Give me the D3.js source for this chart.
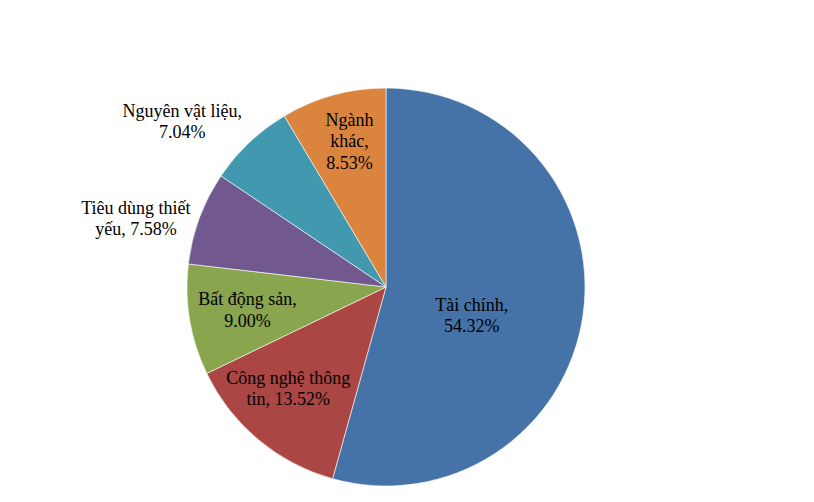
<!DOCTYPE html>
<html>
<head>
<meta charset="utf-8">
<script src="https://cdn.jsdelivr.net/npm/d3@7"></script>
<style>
  body { margin: 0; background: #fff; }
  svg text { font-family: 'Liberation Serif', 'Times New Roman', Times, 'DejaVu Serif', serif; font-size: 18px; fill: #000; }
</style>
</head>
<body>
<svg id="chart"></svg>
<script>
// data
const categories = ['Tài chính', 'Công nghệ thông tin', 'Bất động sản', 'Tiêu dùng thiết yếu', 'Nguyên vật liệu', 'Ngành khác'];
const shares = [54.32, 13.52, 9.00, 7.58, 7.04, 8.53];
const colors = ['#4572A7', '#AA4643', '#89A54E', '#71588F', '#4198AF', '#DB843D'];

// label layout (radius as fraction of pie radius, wrap width, nudge)
const labelR = [0.47, 0.71, 0.69, 1.34, 1.33, 0.75];
const wrapW = [85, 135, 115, 125, 140, 60];
const nudge = [[-7, 16], [-7, -7], [-3, 0], [0, 24], [-22, 27], [3, -2]];

const w = 814, h = 502;
const cx = 386, cy = 287, r = 199;

const svg = d3.select('#chart').attr('width', w).attr('height', h);
const g = svg.append('g').attr('transform', `translate(${cx},${cy})`);

const pie = d3.pie().sort(null).value(d => d);
const arcs = pie(shares);
const arc = d3.arc().innerRadius(0).outerRadius(r);

g.selectAll('path')
  .data(arcs)
  .enter()
  .append('path')
  .attr('d', arc)
  .attr('fill', (d, i) => colors[i])
  .attr('stroke', '#fff')
  .attr('stroke-width', 0.6);

const fontFam = "'Liberation Serif', 'Times New Roman', 'DejaVu Serif', serif";
const lineH = 21.5;
arcs.forEach((d, i) => {
  const la = d3.arc().innerRadius(r * labelR[i]).outerRadius(r * labelR[i]);
  const [x, y] = la.centroid(d);
  const words = `${categories[i]}, ${shares[i].toFixed(2)}%`.split(' ');
  const t = g.append('text').attr('text-anchor', 'middle').attr('font-family', fontFam);
  // greedy wrap
  const lines = [];
  let cur = [];
  const probe = g.append('text').attr('font-family', fontFam);
  words.forEach(wd => {
    const test = cur.concat(wd).join(' ');
    probe.text(test);
    if (cur.length && probe.node().getComputedTextLength() > wrapW[i]) {
      lines.push(cur.join(' '));
      cur = [wd];
    } else cur.push(wd);
  });
  lines.push(cur.join(' '));
  probe.remove();
  const x0 = x + nudge[i][0];
  const y0 = y + nudge[i][1] - (lines.length - 1) * lineH / 2 + 6;
  lines.forEach((ln, k) => {
    t.append('tspan').attr('x', x0).attr('y', y0 + k * lineH).text(ln);
  });
});
</script>
</body>
</html>
